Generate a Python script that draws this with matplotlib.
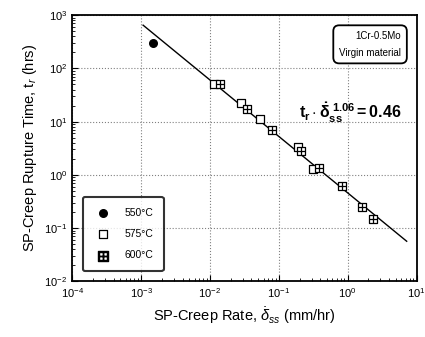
import matplotlib.pyplot as plt
import numpy as np

plt.rcParams['font.family'] = ['Liberation Sans', 'DejaVu Sans']
plt.rcParams['mathtext.fontset'] = 'custom'
plt.rcParams['mathtext.rm'] = 'Liberation Sans'
plt.rcParams['mathtext.it'] = 'Liberation Sans:italic'
plt.rcParams['mathtext.bf'] = 'Liberation Sans:bold'

# 550 C
rate_550 = [1.5e-3]
time_550 = [295]
# 575 C
rate_575 = [0.0115, 0.028, 0.053, 0.19, 0.31]
time_575 = [50, 22, 11, 3.4, 1.3]
# 600 C
rate_600 = [0.0138, 0.035, 0.081, 0.21, 0.38, 0.82, 1.6, 2.3]
time_600 = [50, 17, 7.1, 2.8, 1.35, 0.62, 0.25, 0.15]

# fit t_r * rate^1.06 = 0.46
fit_C = 0.46
fit_n = 1.06
fit_range = [1.07e-3, 7.2]

fig = plt.figure(figsize=(4.25, 3.37), dpi=100)
ax = fig.add_axes([0.17, 0.165, 0.81, 0.79])

xf = np.logspace(np.log10(fit_range[0]), np.log10(fit_range[1]), 50)
ax.plot(xf, fit_C / xf**fit_n, color='black', lw=1.0, zorder=2)

h1 = ax.scatter(rate_550, time_550, marker='o', s=30, color='black', zorder=3)
h2 = ax.scatter(rate_575, time_575, marker='s', s=38, facecolor='white',
                edgecolor='black', lw=0.9, zorder=3)
ax.scatter(rate_600, time_600, marker='s', s=38, facecolor='white',
           edgecolor='black', lw=0.9, zorder=3)
ax.scatter(rate_600, time_600, marker='+', s=38, color='black', lw=0.9, zorder=4)
h3 = ax.scatter([], [], marker=r'$\boxplus$', s=45, color='black')

ax.set_xscale('log')
ax.set_yscale('log')
ax.set_xlim(1e-4, 1e1)
ax.set_ylim(1e-2, 1e3)
ax.grid(True, which='major', ls=':', color='gray', lw=0.8)
ax.tick_params(which='both', direction='in', labelsize=8)
ax.tick_params(which='major', length=4)
ax.tick_params(which='minor', length=2)
for s in ax.spines.values():
    s.set_linewidth(1.3)

ax.set_xlabel(r'SP-Creep Rate, $\dot{\delta}_{ss}$ (mm/hr)', fontsize=10.5)
ax.set_ylabel(r'SP-Creep Rupture Time, t$_r$ (hrs)', fontsize=10.5)

leg = ax.legend([h1, h2, h3], ['550°C', '575°C', '600°C'], loc='lower left',
                fontsize=7.5, frameon=True, fancybox=True, edgecolor='black',
                labelspacing=1.1, borderpad=1.0, handletextpad=1.0,
                bbox_to_anchor=(0.015, 0.02))
leg.get_frame().set_linewidth(1.5)

ax.text(0.955, 0.94, '1Cr-0.5Mo\nVirgin material', transform=ax.transAxes,
        ha='right', va='top', fontsize=7, linespacing=1.8,
        bbox=dict(boxstyle='round,pad=0.6', fc='white', ec='black', lw=1.3))

ax.text(0.66, 0.61, r'$\mathbf{t_r \cdot \dot{\delta}_{ss}^{\ 1.06} = 0.46}$',
        transform=ax.transAxes, fontsize=11.5)

fig.savefig('out.png', dpi=100)
